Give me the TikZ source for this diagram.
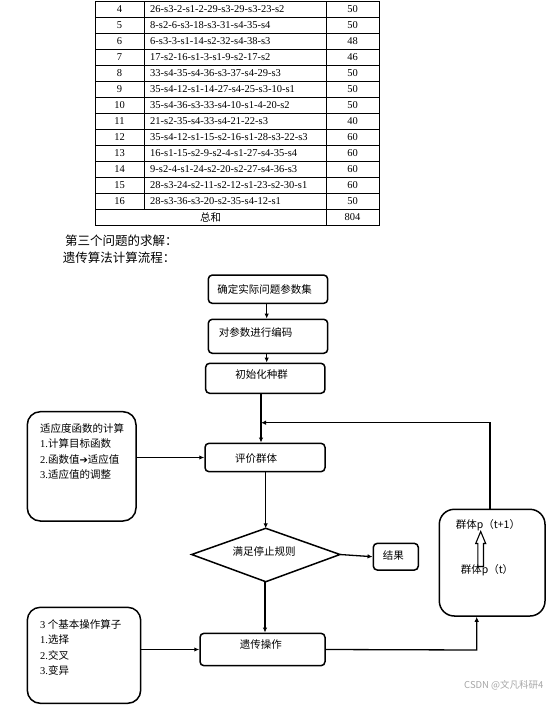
\documentclass[tikz,border=0pt]{standalone}
\usepackage{fontspec}
\setmainfont{Liberation Serif}
\newfontfamily\cjk{Noto Sans CJK SC}
\newfontfamily\symf{DejaVu Sans}
\usetikzlibrary{arrows.meta,calc}
\begin{document}
\begin{tikzpicture}[x=1pt,y=-1pt,
  tab/.style={line width=0.9pt},
  box/.style={draw, line width=1.5pt, rounded corners=4pt, inner sep=0pt},
  bigbox/.style={draw, line width=1.5pt, rounded corners=13pt, inner sep=0pt},
  lbl/.style={font=\cjk\fontsize{10.5}{12}\selectfont, inner sep=0pt},
  cell/.style={font=\fontsize{10.5}{12}\selectfont, inner sep=0pt},
  head/.style={font=\cjk\fontsize{12.5}{14}\selectfont, inner sep=0pt, anchor=west},
  arr/.style={line width=1.3pt, -{Latex[length=5pt,width=4.5pt]}},
  plain/.style={line width=1.5pt}]
\useasboundingbox (0,0) rectangle (556,707);
% ---------- table ----------
\draw[tab] (95,1.5) rectangle (379,225.5);
\foreach \i in {1,...,13} \draw[tab] (95,{1.5+16*\i}) -- (379,{1.5+16*\i});
\draw[tab] (144,1.5) -- (144,209.5);
\draw[tab] (326,1.5) -- (326,225.5);
\foreach \n/\s/\v [count=\i from 0] in {
 4/26-s3-2-s1-2-29-s3-29-s3-23-s2/50,
 5/8-s2-6-s3-18-s3-31-s4-35-s4/50,
 6/6-s3-3-s1-14-s2-32-s4-38-s3/48,
 7/17-s2-16-s1-3-s1-9-s2-17-s2/46,
 8/33-s4-35-s4-36-s3-37-s4-29-s3/50,
 9/35-s4-12-s1-14-27-s4-25-s3-10-s1/50,
 10/35-s4-36-s3-33-s4-10-s1-4-20-s2/50,
 11/21-s2-35-s4-33-s4-21-22-s3/40,
 12/35-s4-12-s1-15-s2-16-s1-28-s3-22-s3/60,
 13/16-s1-15-s2-9-s2-4-s1-27-s4-35-s4/60,
 14/9-s2-4-s1-24-s2-20-s2-27-s4-36-s3/60,
 15/28-s3-24-s2-11-s2-12-s1-23-s2-30-s1/60,
 16/28-s3-36-s3-20-s2-35-s4-12-s1/50}{
 \node[cell] (n\n) at (119.5,{9.5+16*\i}) {\n};
 \node[cell,anchor=west] (s\n) at (150,{9.5+16*\i}) {\s};
 \node[cell] (v\n) at (352.5,{9.5+16*\i}) {\v};
}
\node[lbl] (sum) at (210.5,217.5) {总和};
\node[cell] (sumv) at (352.5,217.5) {804};
% ---------- headings ----------
\node[head] (h1) at (65,240.7) {第三个问题的求解：};
\node[head] (h2) at (62.7,258) {遗传算法计算流程：};
% ---------- flow boxes ----------
\node[box, minimum width=119.4pt, minimum height=28.3pt] (b1) at (268,289.2) {};
\node[lbl] (t1) at (264.5,289) {确定实际问题参数集};
\node[box, minimum width=119.4pt, minimum height=34pt] (b2) at (268,336.3) {};
\node[lbl] (t2) at (255.5,332.7) {对参数进行编码};
\node[box, minimum width=119.3pt, minimum height=30pt] (b3) at (265.3,378.3) {};
\node[lbl] (t3) at (261.5,375) {初始化种群};
\node[box, minimum width=120pt, minimum height=28.4pt] (ev) at (265,457.5) {};
\node[lbl] (t4) at (256,458.3) {评价群体};
% diamond
\coordinate (dT) at (265.8,528.3);
\coordinate (dB) at (265.8,581.7);
\coordinate (dL) at (191.7,554.5);
\coordinate (dR) at (340,554.5);
\draw[plain, line join=miter] (dT) -- (dR) -- (dB) -- (dL) -- cycle;
\node[lbl] (t5) at (264,551.7) {满足停止规则};
\node[box, minimum width=45pt, minimum height=26.7pt] (res) at (395.8,556.7) {};
\node[lbl] (t6) at (393.3,555) {结果};
\node[box, minimum width=125pt, minimum height=32.4pt] (gen) at (262.5,649.5) {};
\node[lbl] (t7) at (260.8,645) {遗传操作};
% left boxes
\node[bigbox, minimum width=108.7pt, minimum height=109.3pt] (lb1) at (81.65,466.35) {};
\node[lbl, anchor=west] (l11) at (40,428.3) {适应度函数的计算};
\node[lbl, anchor=west] (l12) at (40,443.6) {{\rmfamily 1.}计算目标函数};
\node[lbl, anchor=west] (l13) at (40,459.3) {{\rmfamily 2.}函数值{\symf\fontsize{10}{12}\selectfont ➔}适应值};
\node[lbl, anchor=west] (l14) at (40,474.3) {{\rmfamily 3.}适应值的调整};
\node[bigbox, minimum width=113.4pt, minimum height=96pt] (lb2) at (84,655.3) {};
\node[lbl, anchor=west] (l21) at (40,624) {{\rmfamily 3} 个基本操作算子};
\node[lbl, anchor=west] (l22) at (40,639.3) {{\rmfamily 1.}选择};
\node[lbl, anchor=west] (l23) at (40,655) {{\rmfamily 2.}交叉};
\node[lbl, anchor=west] (l24) at (40,670.7) {{\rmfamily 3.}变异};
% right box
\node[draw, line width=1.5pt, rounded corners=15pt, inner sep=0pt, minimum width=105.7pt, minimum height=106.7pt] (rb) at (492.15,562.65) {};
\node[lbl] (r1) at (488,525) {群体p（t+1）};
\node[lbl] (r2) at (487,570) {群体p（t）};
\draw[line width=1.1pt, line join=miter] (477.9,566.5) -- (477.9,543.5) -- (475.7,543.5) -- (480.7,531.5) -- (485.7,543.5) -- (483.5,543.5) -- (483.5,566.5) -- cycle;
% ---------- connectors ----------
\draw[arr] ([xshift=-1.3pt]b1.south) -- ([xshift=-1.3pt]b2.north);
\draw[arr] ([xshift=-1.3pt]b2.south) -- ([xshift=1.4pt]b3.north);
\draw[arr] ([xshift=-4.3pt]b3.south) -- ([xshift=-4pt]ev.north);
\coordinate (fb) at (261,422.7);
\draw[arr] ([xshift=-2.15pt]rb.north) |- (fb);
\draw[arr] ([xshift=0.7pt]ev.south) -- ([xshift=-0.1pt]dT);
\draw[arr] (dR) -- (res.west);
\draw[arr] ([xshift=-0.8pt]dB) -- ([xshift=2.5pt]gen.north);
\draw[arr] (lb1.east |- ev.west) -- (ev.west);
\draw[arr, line width=1pt] (lb2.east |- gen.west) -- (gen.west);
\coordinate (gr) at (476.7,650);
\draw[arr] (gen.east) -- (gr) -- (rb.south -| gr);
% watermark
\node[font=\cjk\fontsize{9.5}{11}\selectfont, text=black!35, anchor=west, inner sep=0pt] (wm) at (464,685) {CSDN @文凡科研4};
\end{tikzpicture}
\end{document}
